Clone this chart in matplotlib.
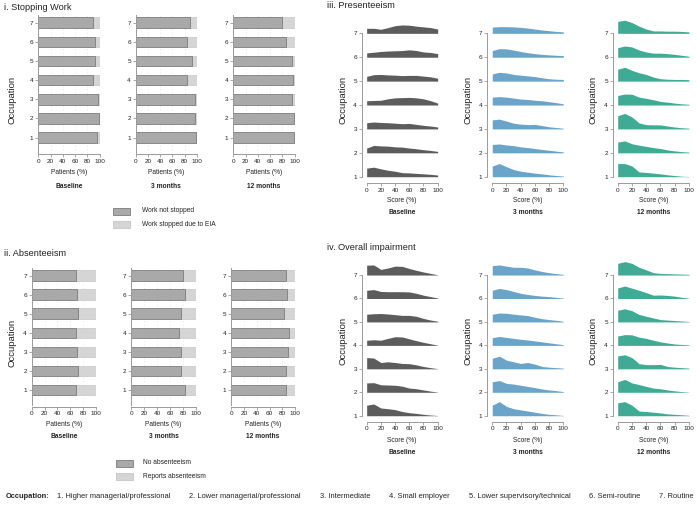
import matplotlib
matplotlib.use('Agg')
import matplotlib.pyplot as plt
from matplotlib.patches import Rectangle

plt.rcParams['font.family'] = ['Liberation Sans', 'DejaVu Sans']

W, H = 697, 512

occupations = [1, 2, 3, 4, 5, 6, 7]
timepoints = ['Baseline', '3 months', '12 months']

# i. Stopping work: % of patients whose work was not stopped (occ 1..7)
stop_base = [96, 99, 97, 89, 92, 92, 89]
stop_3m = [99.5, 97, 98, 84, 93, 84, 89]
stop_12m = [99, 99, 96, 98, 95, 86, 79]

# ii. Absenteeism: % of patients with no absenteeism
abs_base = [69, 73, 70, 68.5, 73, 70.5, 68.5]
abs_3m = [83, 77, 77.5, 74.5, 77, 83, 81]
abs_12m = [86, 86.5, 88.5, 91, 82, 87, 86]

# density ridges, heights read at each score value (occ 1..7)
score = [0, 10, 20, 30, 40, 50, 60, 70, 80, 90, 100]

pres_base = [
    [0.36, 0.40, 0.33, 0.27, 0.23, 0.17, 0.16, 0.14, 0.12, 0.10, 0.07],
    [0.20, 0.31, 0.29, 0.28, 0.25, 0.24, 0.20, 0.17, 0.13, 0.10, 0.06],
    [0.26, 0.29, 0.27, 0.26, 0.24, 0.22, 0.23, 0.19, 0.15, 0.12, 0.08],
    [0.18, 0.19, 0.20, 0.26, 0.30, 0.31, 0.32, 0.30, 0.26, 0.18, 0.08],
    [0.20, 0.27, 0.28, 0.26, 0.25, 0.23, 0.24, 0.24, 0.21, 0.18, 0.12],
    [0.18, 0.21, 0.24, 0.26, 0.27, 0.28, 0.31, 0.28, 0.22, 0.20, 0.15],
    [0.21, 0.21, 0.17, 0.24, 0.32, 0.35, 0.34, 0.30, 0.27, 0.24, 0.18],
]
pres_3m = [
    [0.45, 0.55, 0.42, 0.30, 0.23, 0.19, 0.15, 0.12, 0.08, 0.05, 0.03],
    [0.35, 0.37, 0.33, 0.30, 0.25, 0.22, 0.18, 0.14, 0.11, 0.07, 0.04],
    [0.38, 0.41, 0.33, 0.24, 0.20, 0.18, 0.19, 0.14, 0.09, 0.06, 0.03],
    [0.33, 0.35, 0.33, 0.29, 0.25, 0.23, 0.20, 0.18, 0.14, 0.10, 0.05],
    [0.30, 0.37, 0.34, 0.28, 0.25, 0.22, 0.19, 0.14, 0.10, 0.08, 0.07],
    [0.28, 0.36, 0.35, 0.30, 0.24, 0.19, 0.15, 0.12, 0.10, 0.08, 0.07],
    [0.26, 0.28, 0.28, 0.27, 0.25, 0.22, 0.18, 0.14, 0.11, 0.08, 0.06],
]
pres_12m = [
    [0.55, 0.55, 0.45, 0.20, 0.18, 0.15, 0.12, 0.08, 0.05, 0.02, 0.01],
    [0.45, 0.50, 0.38, 0.32, 0.27, 0.22, 0.18, 0.12, 0.08, 0.05, 0.03],
    [0.55, 0.65, 0.50, 0.25, 0.18, 0.17, 0.17, 0.12, 0.08, 0.05, 0.03],
    [0.40, 0.46, 0.45, 0.33, 0.28, 0.22, 0.15, 0.12, 0.08, 0.05, 0.03],
    [0.50, 0.58, 0.45, 0.35, 0.28, 0.17, 0.10, 0.08, 0.07, 0.07, 0.06],
    [0.40, 0.47, 0.43, 0.30, 0.22, 0.17, 0.17, 0.15, 0.12, 0.08, 0.04],
    [0.50, 0.55, 0.45, 0.30, 0.18, 0.10, 0.10, 0.09, 0.09, 0.08, 0.06],
]
imp_base = [
    [0.45, 0.50, 0.33, 0.30, 0.26, 0.18, 0.13, 0.10, 0.06, 0.03, 0.01],
    [0.40, 0.41, 0.32, 0.31, 0.30, 0.26, 0.18, 0.15, 0.10, 0.05, 0.01],
    [0.48, 0.46, 0.27, 0.30, 0.27, 0.23, 0.22, 0.17, 0.10, 0.05, 0.01],
    [0.22, 0.24, 0.22, 0.30, 0.37, 0.36, 0.28, 0.20, 0.13, 0.07, 0.01],
    [0.33, 0.35, 0.36, 0.34, 0.31, 0.28, 0.28, 0.24, 0.15, 0.08, 0.03],
    [0.35, 0.38, 0.30, 0.29, 0.29, 0.29, 0.28, 0.22, 0.14, 0.08, 0.02],
    [0.42, 0.43, 0.24, 0.30, 0.38, 0.37, 0.28, 0.20, 0.13, 0.07, 0.01],
]
imp_3m = [
    [0.45, 0.60, 0.40, 0.30, 0.25, 0.20, 0.15, 0.10, 0.06, 0.04, 0.01],
    [0.45, 0.50, 0.38, 0.35, 0.30, 0.25, 0.20, 0.14, 0.10, 0.07, 0.03],
    [0.45, 0.54, 0.37, 0.30, 0.23, 0.27, 0.20, 0.10, 0.07, 0.05, 0.03],
    [0.33, 0.38, 0.34, 0.30, 0.26, 0.23, 0.19, 0.15, 0.11, 0.07, 0.03],
    [0.33, 0.38, 0.37, 0.33, 0.30, 0.27, 0.20, 0.14, 0.10, 0.07, 0.03],
    [0.35, 0.43, 0.38, 0.30, 0.22, 0.17, 0.13, 0.10, 0.08, 0.05, 0.02],
    [0.40, 0.43, 0.38, 0.33, 0.33, 0.30, 0.22, 0.15, 0.10, 0.06, 0.03],
]
imp_12m = [
    [0.55, 0.60, 0.45, 0.20, 0.18, 0.15, 0.12, 0.08, 0.06, 0.04, 0.02],
    [0.45, 0.55, 0.40, 0.33, 0.25, 0.18, 0.15, 0.10, 0.06, 0.03, 0.01],
    [0.55, 0.60, 0.48, 0.22, 0.18, 0.18, 0.19, 0.10, 0.07, 0.05, 0.03],
    [0.40, 0.46, 0.45, 0.35, 0.30, 0.22, 0.15, 0.10, 0.06, 0.04, 0.02],
    [0.50, 0.56, 0.48, 0.32, 0.24, 0.17, 0.10, 0.08, 0.06, 0.04, 0.02],
    [0.45, 0.53, 0.44, 0.35, 0.25, 0.14, 0.15, 0.13, 0.10, 0.05, 0.01],
    [0.50, 0.57, 0.50, 0.33, 0.22, 0.10, 0.07, 0.06, 0.05, 0.04, 0.03],
]

occ_names = ['1. Higher managerial/professional', '2. Lower managerial/professional',
             '3. Intermediate', '4. Small employer', '5. Lower supervisory/technical',
             '6. Semi-routine', '7. Routine']

ridge_colors = ['#5c5c5c', '#6aa4c9', '#3fab95']
dark_bar = '#a9a9a9'
light_bar = '#d5d5d5'
axis_col = '#9a9a9a'
text_col = '#222222'

fig = plt.figure(figsize=(W / 100, H / 100), dpi=100)


def rect_px(x0, top, w, h):
    return [x0 / W, 1 - (top + h) / H, w / W, h / H]


def ftext(x, y, s, **kw):
    return fig.text(x / W, 1 - y / H, s, color=text_col, **kw)


def style_axis(ax):
    for side in ['top', 'right']:
        ax.spines[side].set_visible(False)
    for side in ['left', 'bottom']:
        ax.spines[side].set_color(axis_col)
        ax.spines[side].set_linewidth(0.7)
    ax.tick_params(colors=axis_col, labelcolor=text_col, labelsize=4.6,
                   length=2, width=0.6, pad=1.5)


def bar_panel(rect, vals):
    ax = fig.add_axes(rect)
    rest = [100 - v for v in vals]
    ax.barh(occupations, rest, left=vals, height=0.55, color=light_bar,
            edgecolor='#c6c6c6', linewidth=0.5)
    ax.barh(occupations, vals, height=0.55, color=dark_bar,
            edgecolor='#7c7c7c', linewidth=0.6)
    ax.set_xlim(0, 100)
    ax.set_ylim(0.2, 7.4)
    ax.set_xticks([0, 20, 40, 60, 80, 100])
    ax.set_yticks(occupations)
    for gx in [20, 40, 60, 80, 100]:
        ax.axvline(gx, color='#dddddd', lw=0.6, ls=(0, (1, 3)), zorder=0)
    style_axis(ax)
    ax.spines['bottom'].set_position(('outward', 1))
    return ax


def ridge_panel(rect, data, color):
    ax = fig.add_axes(rect)
    for occ, h in zip(occupations[::-1], data[::-1]):
        top = [occ + v for v in h]
        ax.fill_between(score, occ, top, color=color, linewidth=0)
    ax.set_xlim(-7, 101)
    ax.set_ylim(0.75, 7.65)
    ax.set_xticks([0, 20, 40, 60, 80, 100])
    ax.set_yticks(occupations)
    style_axis(ax)
    ax.spines['left'].set_bounds(1, 7)
    ax.spines['bottom'].set_bounds(0, 100)
    return ax


# ---- i. Stopping Work ----
top_x = [(38.3, 61.4), (135.7, 61.0), (233.3, 61.4)]
for (x0, w), vals, tp in zip(top_x, [stop_base, stop_3m, stop_12m], timepoints):
    bar_panel(rect_px(x0, 15, w, 138), vals)
    ftext(x0 + w / 2, 173, 'Patients (%)', fontsize=4.8, ha='center', va='center')
    ftext(x0 + w / 2, 186, tp, fontsize=4.8, ha='center', va='center', fontweight='bold')

# ---- ii. Absenteeism ----
bot_x = [(31.7, 64.0), (131.3, 64.4), (231.3, 63.7)]
for (x0, w), vals, tp in zip(bot_x, [abs_base, abs_3m, abs_12m], timepoints):
    bar_panel(rect_px(x0, 268, w, 137.2), vals)
    ftext(x0 + w / 2, 424, 'Patients (%)', fontsize=4.8, ha='center', va='center')
    ftext(x0 + w / 2, 437, tp, fontsize=4.8, ha='center', va='center', fontweight='bold')

ftext(4, 7, 'i. Stopping Work', fontsize=6.6, ha='left', va='center')
ftext(4, 253, 'ii. Absenteeism', fontsize=6.6, ha='left', va='center')
ftext(12, 100, 'Occupation', fontsize=6.8, ha='center', va='center', rotation=90)
ftext(12, 343, 'Occupation', fontsize=6.8, ha='center', va='center', rotation=90)

# legends for the bar panels
legend_sets = [(211, 224, 113, 142, ['Work not stopped', 'Work stopped due to EIA']),
               (463, 476, 116, 143, ['No absenteeism', 'Reports absenteeism'])]
for y1, y2, px, tx, labels in legend_sets:
    for yy, col, ec, lab in [(y1, dark_bar, '#7c7c7c', labels[0]),
                             (y2, light_bar, '#c6c6c6', labels[1])]:
        fig.add_artist(Rectangle((px / W, 1 - (yy + 3.5) / H), 17 / W, 7 / H,
                                 transform=fig.transFigure, facecolor=col,
                                 edgecolor=ec, linewidth=0.6))
        ftext(tx, yy, lab, fontsize=4.8, ha='left', va='center')

# ---- iii. Presenteeism / iv. Overall impairment ----
ridge_x = [(361.7, 76.7), (487.3, 76.7), (612.7, 77.0)]
ylab_x = [343, 468, 593]
for (x0, w), data, col, tp, yx in zip(ridge_x, [pres_base, pres_3m, pres_12m],
                                      ridge_colors, timepoints, ylab_x):
    ridge_panel(rect_px(x0, 17.8, w, 164.9), data, col)
    mid = x0 + 57 * w / 108
    ftext(mid, 200, 'Score (%)', fontsize=4.8, ha='center', va='center')
    ftext(mid, 212, tp, fontsize=4.8, ha='center', va='center', fontweight='bold')
    ftext(yx, 100, 'Occupation', fontsize=6.8, ha='center', va='center', rotation=90)

for (x0, w), data, col, tp, yx in zip(ridge_x, [imp_base, imp_3m, imp_12m],
                                      ridge_colors, timepoints, ylab_x):
    ridge_panel(rect_px(x0, 259.8, w, 161.8), data, col)
    mid = x0 + 57 * w / 108
    ftext(mid, 440, 'Score (%)', fontsize=4.8, ha='center', va='center')
    ftext(mid, 452, tp, fontsize=4.8, ha='center', va='center', fontweight='bold')
    ftext(yx, 341, 'Occupation', fontsize=6.8, ha='center', va='center', rotation=90)

ftext(327, 6, 'iii. Presenteeism', fontsize=6.6, ha='left', va='center')
ftext(327, 247, 'iv. Overall impairment', fontsize=6.6, ha='left', va='center')

# ---- occupation key: spread items evenly between x=57 and x=694 ----
ftext(50, 497, 'Occupation:', fontsize=5.4, ha='right', va='center', fontweight='bold')
renderer = fig.canvas.get_renderer()
key_texts = [ftext(0, 497, name, fontsize=5.4, ha='left', va='center') for name in occ_names]
widths = [t.get_window_extent(renderer).width for t in key_texts]
gap = (694 - 57 - sum(widths)) / (len(widths) - 1)
kx = 57
for t, wd in zip(key_texts, widths):
    t.set_x(kx / W)
    kx += wd + gap

fig.savefig('out.png', dpi=100, facecolor='white')
